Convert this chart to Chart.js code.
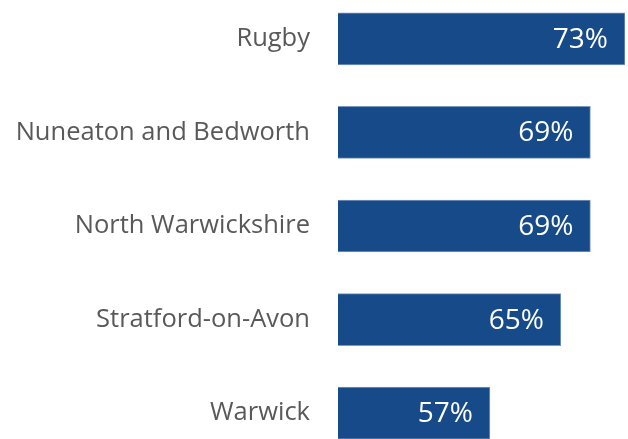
<!DOCTYPE html>
<html>
<head>
<meta charset="utf-8">
<script src="https://cdn.jsdelivr.net/npm/chart.js@4"></script>
<style>
  html, body { margin: 0; padding: 0; background: #fff; overflow: hidden; }
  #chart { position: absolute; left: 0; top: -8px; }
</style>
</head>
<body>
<canvas id="chart" width="628" height="468"></canvas>
<script>
const districts = ["Rugby", "Nuneaton and Bedworth", "North Warwickshire", "Stratford-on-Avon", "Warwick"];
const shares = [73, 68.9, 68.9, 65.4, 57];

// white value labels drawn inside the bar ends
const valueLabels = {
  id: 'valueLabels',
  afterDatasetsDraw(chart) {
    const c = chart.ctx;
    const meta = chart.getDatasetMeta(0);
    c.save();
    c.fillStyle = '#ffffff';
    c.font = '28px "Open Sans"';
    c.textAlign = 'right';
    c.textBaseline = 'middle';
    meta.data.forEach((bar, i) => {
      c.fillText(Math.round(shares[i]) + '%', bar.x - 17, bar.y + 1);
    });
    c.restore();
  }
};

const ctx = document.getElementById("chart").getContext("2d");

const chart = new Chart(ctx, {
  type: 'bar',
  data: {
    labels: districts,
    datasets: [{
      data: shares,
      backgroundColor: "#164A88",
      borderColor: "#7d98c0",
      borderWidth: 1,
      borderSkipped: false,
      barThickness: 52
    }]
  },
  options: {
    indexAxis: 'y',
    responsive: false,
    animation: false,
    layout: { padding: { top: 0, bottom: 0, left: 0, right: 3 } },
    plugins: {
      legend: { display: false },
      tooltip: { enabled: false }
    },
    scales: {
      x: {
        display: false,
        min: 39,
        max: 73
      },
      y: {
        grid: { display: false, drawTicks: false },
        border: { display: false },
        ticks: {
          color: '#595959',
          padding: 28,
          font: { family: 'Open Sans', size: 25.5 }
        },
        afterFit(scale) {
          scale.width = 338;
          scale.paddingTop = 0;
          scale.paddingBottom = 0;
        }
      }
    }
  },
  plugins: [valueLabels]
});
</script>
</body>
</html>
